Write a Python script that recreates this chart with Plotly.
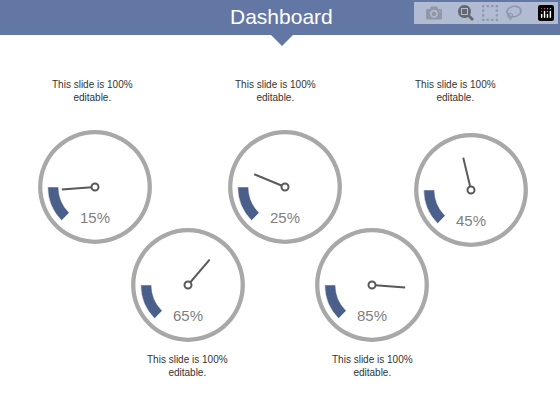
import plotly.graph_objects as go

values = [15, 25, 45, 65, 85]
labels = ["15%", "25%", "45%", "65%", "85%"]
seg_colors = ["#4a5f8a", "#f78c0f", "#e0393e", "#4a5f8a", "#f78c0f", "#e0393e"]
caption = "This slide is 100%<br>editable."

W, H = 560, 420
centers = [(95, 187), (285, 187), (471, 190), (188, 285), (372, 285)]
cap_pos = [(92, 91), (275, 91), (455, 91), (188, 366), (372, 366)]
R = 58


def ann(x, y, text, size, color):
    fig.add_annotation(x=x / W, y=1 - y / H, xref="paper", yref="paper",
                       xanchor="center", yanchor="middle", text=text,
                       showarrow=False, font=dict(size=size, color=color))


fig = go.Figure()
for i, (v, (cx, cy)) in enumerate(zip(values, centers)):
    pid = "polar" if i == 0 else "polar%d" % (i + 1)
    fig.add_trace(go.Barpolar(r=[4], base=[49], theta=[0], width=[360],
                              marker_color="#a8a8a8", marker_line_width=0,
                              subplot=pid, hoverinfo="skip"))
    fig.add_trace(go.Barpolar(r=[10], base=[34], theta=[-112.5 + 45 * k for k in range(6)],
                              width=[45] * 6, marker_color=seg_colors,
                              marker_line_color="white", marker_line_width=0.5,
                              subplot=pid, hoverinfo="skip"))
    ang = -135 + 270 * v / 100
    fig.add_trace(go.Scatterpolar(r=[0, 31], theta=[ang, ang], mode="lines",
                                  line=dict(color="#595959", width=2),
                                  subplot=pid, hoverinfo="skip"))
    fig.add_trace(go.Scatterpolar(r=[0], theta=[0], mode="markers",
                                  marker=dict(size=7, color="white",
                                              line=dict(color="#595959", width=2)),
                                  subplot=pid, hoverinfo="skip"))
    fig.update_layout({pid: dict(
        domain=dict(x=[(cx - R) / W, (cx + R) / W], y=[1 - (cy + R) / H, 1 - (cy - R) / H]),
        bgcolor="rgba(0,0,0,0)",
        radialaxis=dict(range=[0, 54], visible=False),
        angularaxis=dict(visible=False, rotation=90, direction="clockwise"))})
    ann(cx, cy + 30, labels[i], 15, "#7f7f7f")
    ann(cap_pos[i][0], cap_pos[i][1], caption, 10, "#333333")

# header band with pointer
fig.add_shape(type="rect", xref="paper", yref="paper", x0=0, x1=1,
              y0=1 - 35 / H, y1=1, fillcolor="#6377a5", line_width=0, layer="below")
fig.add_shape(type="path", xref="paper", yref="paper",
              path="M %f %f L %f %f L %f %f Z" % (270 / W, 1 - 34 / H, 294 / W, 1 - 34 / H, 282 / W, 1 - 46 / H),
              fillcolor="#6377a5", line_width=0, layer="below")
ann(281, 17, "Dashboard", 21, "white")

fig.update_layout(width=W, height=H, margin=dict(l=0, r=0, t=0, b=0),
                  paper_bgcolor="white", showlegend=False,
                  font=dict(family="Liberation Sans, Arial, sans-serif"))
fig.write_html("out.html")

# drop the default body margin so the figure sits at the page corner
with open("out.html") as f:
    page = f.read()
page = page.replace("<head>", "<head><style>body{margin:0}</style>", 1)
with open("out.html", "w") as f:
    f.write(page)
